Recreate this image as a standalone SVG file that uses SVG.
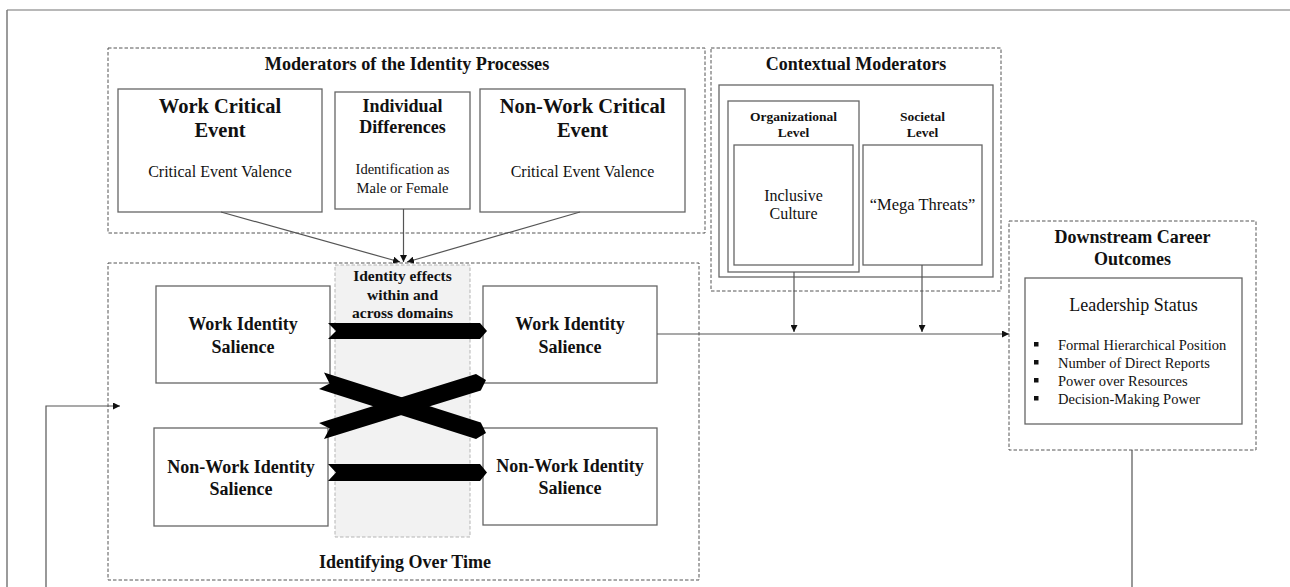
<svg xmlns="http://www.w3.org/2000/svg" width="1290" height="587" viewBox="0 0 1290 587">
  <defs>
    <style>
      text { font-family: "Liberation Serif", "Times New Roman", serif; fill: #111; text-anchor: middle; }
      .b { font-weight: bold; }
      .box { fill: #fff; stroke: #666; stroke-width: 1.3; }
      .dash { fill: none; stroke: #555; stroke-width: 1; stroke-dasharray: 3.5 2; }
      .shade { fill: #f2f2f2; stroke: #b5b5b5; stroke-width: 1; stroke-dasharray: 3.5 2; }
      .line { fill: none; stroke: #555; stroke-width: 1.2; }
      .fat { fill: #000; stroke: none; }
      .bul { fill: #111; }
    </style>
    <marker id="tip" viewBox="0 0 10 10" refX="10" refY="5" markerWidth="7" markerHeight="7" orient="auto" markerUnits="userSpaceOnUse">
      <path d="M0,0 L10,5 L0,10 Z" fill="#111"/>
    </marker>
  </defs>

  <rect width="1290" height="587" fill="#fff"/>

  <!-- page frame -->
  <path d="M1290,10 H7" fill="none" stroke="#b8b8b8" stroke-width="2"/>
  <path d="M7,10 V587" fill="none" stroke="#7a7a7a" stroke-width="1.5"/>

  <!-- Moderators of the Identity Processes -->
  <g id="moderators">
    <rect class="dash" x="108" y="48" width="597" height="185"/>
    <text class="b" x="407" y="70" font-size="18.2">Moderators of the Identity Processes</text>
  </g>
  <g id="work-critical-event">
    <rect class="box" x="118" y="89" width="204" height="123"/>
    <text class="b" x="220" y="113" font-size="20.5">Work Critical</text>
    <text class="b" x="220" y="137" font-size="20.5">Event</text>
    <text x="220" y="177" font-size="16">Critical Event Valence</text>
  </g>
  <g id="individual-differences">
    <rect class="box" x="335" y="92" width="135" height="117"/>
    <text class="b" x="402.5" y="112" font-size="18">Individual</text>
    <text class="b" x="402.5" y="133" font-size="18">Differences</text>
    <text x="402.5" y="174" font-size="14.5">Identification as</text>
    <text x="402.5" y="193" font-size="14.5">Male or Female</text>
  </g>
  <g id="nonwork-critical-event">
    <rect class="box" x="480" y="89" width="205" height="123"/>
    <text class="b" x="582.5" y="113" font-size="20.5">Non-Work Critical</text>
    <text class="b" x="582.5" y="137" font-size="20.5">Event</text>
    <text x="582.5" y="177" font-size="16">Critical Event Valence</text>
  </g>

  <!-- Contextual Moderators -->
  <g id="contextual">
    <rect class="dash" x="711" y="48" width="290" height="243"/>
    <text class="b" x="856" y="70" font-size="18">Contextual Moderators</text>
    <rect class="box" x="719" y="85" width="274" height="192"/>
  </g>
  <g id="organizational-level">
    <rect class="box" x="728" y="101" width="131" height="171"/>
    <text class="b" x="793.5" y="121" font-size="13.5">Organizational</text>
    <text class="b" x="793.5" y="137" font-size="13.5">Level</text>
    <rect class="box" x="734" y="145" width="119" height="120"/>
    <text x="793.5" y="201" font-size="16">Inclusive</text>
    <text x="793.5" y="219" font-size="16">Culture</text>
  </g>
  <g id="societal-level">
    <text class="b" x="922.5" y="121" font-size="13.5">Societal</text>
    <text class="b" x="922.5" y="137" font-size="13.5">Level</text>
    <rect class="box" x="863" y="145" width="119" height="120"/>
    <text x="922.5" y="210" font-size="16.5">“Mega Threats”</text>
  </g>

  <!-- Identifying Over Time -->
  <g id="identifying">
    <rect class="dash" x="108" y="263" width="591" height="317"/>
    <rect class="shade" x="335" y="265" width="135" height="272"/>
    <text class="b" x="402.5" y="281" font-size="15.5">Identity effects</text>
    <text class="b" x="402.5" y="300" font-size="15.5">within and</text>
    <text class="b" x="402.5" y="318" font-size="15.5">across domains</text>
    <text class="b" x="405" y="568" font-size="18">Identifying Over Time</text>
  </g>
  <g id="work-identity-t1">
    <rect class="box" x="156" y="286" width="174" height="97"/>
    <text class="b" x="243" y="330" font-size="18">Work Identity</text>
    <text class="b" x="243" y="353" font-size="18">Salience</text>
  </g>
  <g id="nonwork-identity-t1">
    <rect class="box" x="154" y="428" width="174" height="98"/>
    <text class="b" x="241" y="473" font-size="18">Non-Work Identity</text>
    <text class="b" x="241" y="495" font-size="18">Salience</text>
  </g>
  <g id="work-identity-t2">
    <rect class="box" x="483" y="286" width="174" height="97"/>
    <text class="b" x="570" y="330" font-size="18">Work Identity</text>
    <text class="b" x="570" y="353" font-size="18">Salience</text>
  </g>
  <g id="nonwork-identity-t2">
    <rect class="box" x="483" y="428" width="174" height="97"/>
    <text class="b" x="570" y="472" font-size="18">Non-Work Identity</text>
    <text class="b" x="570" y="494" font-size="18">Salience</text>
  </g>

  <!-- Downstream Career Outcomes -->
  <g id="downstream">
    <rect class="dash" x="1009" y="221" width="247" height="229"/>
    <text class="b" x="1132.5" y="243" font-size="18">Downstream Career</text>
    <text class="b" x="1132.5" y="265" font-size="18">Outcomes</text>
  </g>
  <g id="leadership-status">
    <rect class="box" x="1025" y="278" width="217" height="146"/>
    <text x="1133.5" y="311" font-size="18">Leadership Status</text>
    <rect class="bul" x="1034" y="342" width="4.5" height="4.5"/>
    <rect class="bul" x="1034" y="360" width="4.5" height="4.5"/>
    <rect class="bul" x="1034" y="378" width="4.5" height="4.5"/>
    <rect class="bul" x="1034" y="396" width="4.5" height="4.5"/>
    <g font-size="14.5">
      <text x="1058" y="350" style="text-anchor:start">Formal Hierarchical Position</text>
      <text x="1058" y="368" style="text-anchor:start">Number of Direct Reports</text>
      <text x="1058" y="386" style="text-anchor:start">Power over Resources</text>
      <text x="1058" y="404" style="text-anchor:start">Decision-Making Power</text>
    </g>
  </g>

  <!-- connectors -->
  <g id="connectors">
    <line class="line" x1="221" y1="212" x2="400" y2="262" marker-end="url(#tip)"/>
    <line class="line" x1="403.5" y1="209" x2="403.5" y2="262" marker-end="url(#tip)"/>
    <line class="line" x1="580" y1="212" x2="407" y2="262" marker-end="url(#tip)"/>
    <line class="line" x1="794" y1="272" x2="794" y2="332" marker-end="url(#tip)"/>
    <line class="line" x1="922" y1="265" x2="922" y2="332" marker-end="url(#tip)"/>
    <line class="line" x1="657" y1="334" x2="1009" y2="334" marker-end="url(#tip)"/>
    <path class="line" d="M1132,450 V600 H46 V406 H120" marker-end="url(#tip)"/>

    <!-- identity effect ribbons -->
    <polygon class="fat" points="328,323 480,323 487,331 480,339 328,339 336,331"/>
    <polygon class="fat" points="328,464 480,464 487,472.5 480,481 328,481 336,472.5"/>
    <polygon class="fat" points="324,372.5 480.8,422.5 486,433 476,439 319,389 329.6,383.4"/>
    <polygon class="fat" points="319,423 476,374 486,380 480.8,390.5 324,439 329.6,428.6"/>
  </g>
</svg>
